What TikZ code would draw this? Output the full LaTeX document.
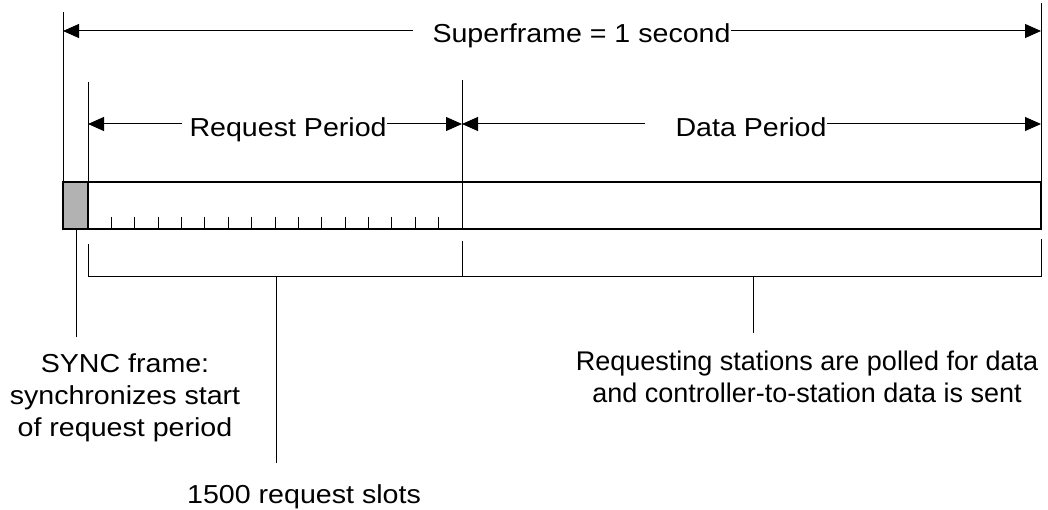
\documentclass[tikz,border=0pt]{standalone}
\usepackage{fontspec}
\setmainfont{Liberation Sans}[FakeStretch=1.1]
\newfontfamily\plainsans{Liberation Sans}
\usetikzlibrary{arrows.meta}

\begin{document}
\begin{tikzpicture}[x=1pt, y=-1pt, line width=1pt,
  lbl/.style={inner sep=0pt, font=\fontsize{26}{32}\selectfont},
  note/.style={lbl, align=center},
  dim/.style={-{Triangle[length=16pt,width=14pt]}},
  frame/.style={line width=1.3pt},
]
\useasboundingbox (0,0) rectangle (1048,510);

% end points of the timing marks
\coordinate (sfTop)  at (63,12);
\coordinate (sfBot)  at (63,229);
\coordinate (endTop) at (1041,3);
\coordinate (endBot) at (1041,229);
\coordinate (rqTop)  at (88,82);
\coordinate (rqBot)  at (88,229);
\coordinate (dvTop)  at (462,80);
\coordinate (dvBot)  at (462,229);

% superframe: SYNC slot, request slots and data period
\draw[frame] (63,182) rectangle (1041,229);
\draw[frame, fill=gray!60] (63,182) rectangle (88,229);
\foreach \k in {1,...,15}
  \draw (88+23.375*\k,217) -- (88+23.375*\k,229);

% vertical marks
\draw (sfTop) -- (sfBot);
\draw (endTop) -- (endBot);
\draw (rqTop) -- (rqBot);
\draw (dvTop) -- (dvBot);

% superframe span
\node[lbl, anchor=base west] (sf) at (432,43) {Superframe = 1 second};
\coordinate (sfa) at (413,31);
\draw[dim] (sfa) -- (sfa -| sfTop);
\draw[dim] (sf.east |- sfa) -- (sfa -| endTop);

% request period span
\node[lbl, anchor=base west] (rp) at (189,137) {Request Period};
\coordinate (rpa) at (182,124);
\draw[dim] (rpa) -- (rpa -| rqTop);
\draw[dim] (rp.east |- rpa) -- (rpa -| dvTop);

% data period span
\node[lbl, anchor=base west] (dp) at (675,137) {Data Period};
\coordinate (dpa) at (645,124);
\draw[dim] (dpa) -- (dpa -| dvTop);
\draw[dim] (dp.east |- dpa) -- (dpa -| endTop);

% brackets under the frame
\coordinate (rbL) at (88,244);
\coordinate (rbR) at (462,241);
\coordinate (dbR) at (1041,239);
\draw (rbL) -- (88,277) -- (462,277) -- (rbR);
\draw (462,277) -- (1041,277) -- (dbR);

% annotations (base anchor sits on the last line)
\node[note, anchor=base] (sync) at (125,436)
  {SYNC frame:\\synchronizes start\\of request period};
\node[note, anchor=base] (slots) at (304,503) {1500 request slots};
\node[note, anchor=base, font=\plainsans\fontsize{27}{32}\selectfont] (poll) at (807,402)
  {Requesting stations are polled for data\\and controller-to-station data is sent};

\coordinate (syncP) at (76,229);
\coordinate (slotP) at (276,277);
\coordinate (dataP) at (753,277);
\draw (syncP) -- (syncP |- 0,337);
\draw (slotP) -- (slotP |- 0,463);
\draw (dataP) -- (dataP |- 0,333);
\end{tikzpicture}
\end{document}
